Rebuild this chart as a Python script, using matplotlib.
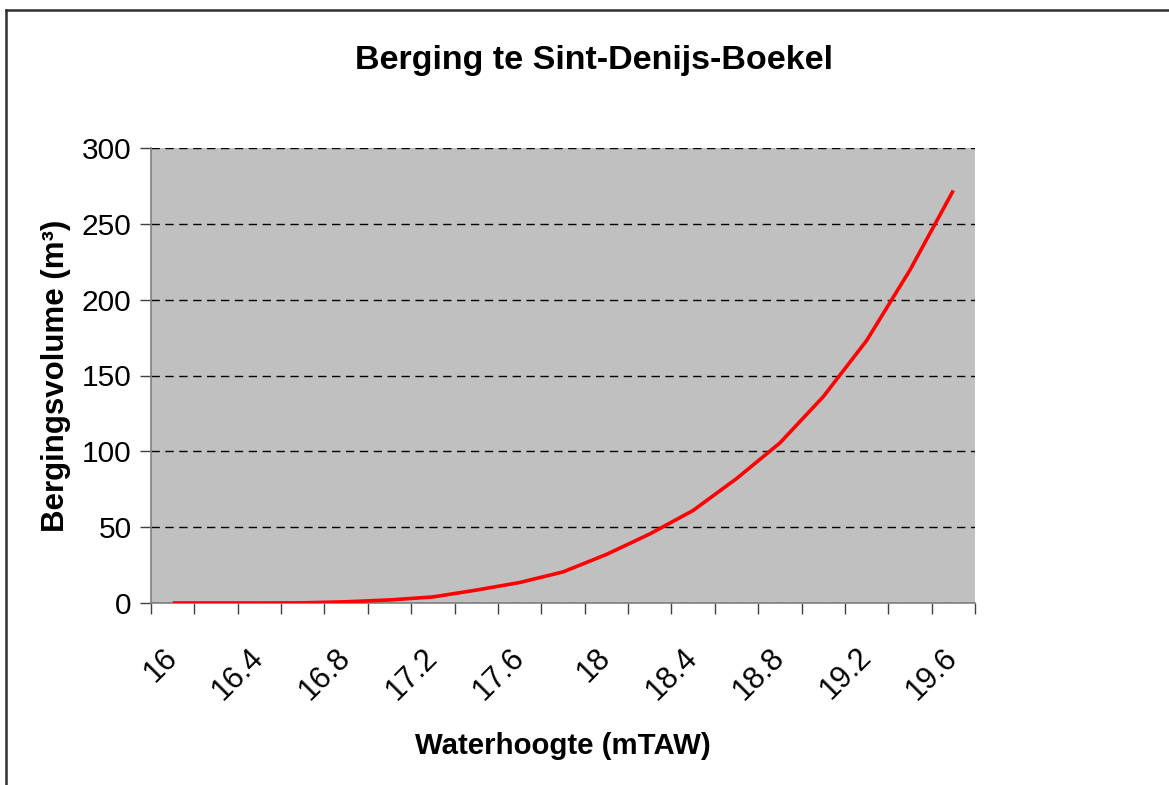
import numpy as np
import matplotlib.pyplot as plt
import matplotlib.transforms as mtransforms
from matplotlib.lines import Line2D

plt.rcParams['font.family'] = ['Liberation Sans', 'DejaVu Sans']

# data
waterhoogte = ["16", "16.2", "16.4", "16.6", "16.8", "17", "17.2", "17.4", "17.6", "17.8",
               "18", "18.2", "18.4", "18.6", "18.8", "19", "19.2", "19.4", "19.6"]
volume = [0, 0, 0, 0.1, 0.8, 2, 4, 8.5, 13.5, 20.5,
          32, 45.5, 61, 82, 105.5, 136, 173, 219.5, 272]
y_ticks = [0, 50, 100, 150, 200, 250, 300]

fig = plt.figure(figsize=(11.69, 7.85), dpi=100)
ax = fig.add_axes([151 / 1169, 1 - 603 / 785, 824 / 1169, 455 / 785])
ax.set_facecolor('#c0c0c0')

x = np.arange(len(volume))
ax.plot(x, volume, color='#ff0000', lw=2.6, solid_capstyle='butt', zorder=3)

ax.set_xlim(-0.5, len(volume) - 0.5)
ax.set_ylim(0, 300)
ax.set_yticks(y_ticks)
ax.set_yticklabels([str(v) for v in y_ticks], fontsize=21.5)
ax.yaxis.grid(True, color='black', linestyle=(0, (6, 4)), lw=1)
ax.set_axisbelow(True)

# category boundaries as tick marks, labels on every second category
ax.set_xticks(np.arange(-0.5, len(volume)))
ax.set_xticklabels([])
ax.set_xticks(x[::2], minor=True)
labels = ax.set_xticklabels(waterhoogte[::2], minor=True, fontsize=22, rotation=45,
                            ha='right', va='center', rotation_mode='anchor')
offset = mtransforms.ScaledTranslation(-5 / 100, 0, fig.dpi_scale_trans)
for lab in labels:
    lab.set_transform(lab.get_transform() + offset)
ax.tick_params(axis='x', which='major', length=8, width=1, color='#404040', direction='out')
ax.tick_params(axis='x', which='minor', length=0, pad=36)
ax.tick_params(axis='y', length=8, width=1, color='#404040', direction='out', pad=6)

for s in ['top', 'right']:
    ax.spines[s].set_visible(False)
for s in ['left', 'bottom']:
    ax.spines[s].set_color('#808080')
    ax.spines[s].set_linewidth(1.2)

ax.set_ylabel('Bergingsvolume (m³)', fontsize=22.5, fontweight='bold', labelpad=8)
ax.set_xlabel('Waterhoogte (mTAW)', fontsize=21.2, fontweight='bold', labelpad=19)
fig.text(594 / 1169, 1 - 61 / 785, 'Berging te Sint-Denijs-Boekel', fontsize=24.5,
         fontweight='bold', ha='center', va='center')

# outer chart border (top and left visible)
fig.add_artist(Line2D([6 / 1169, 6 / 1169], [0, 1 - 10 / 785], transform=fig.transFigure,
                      color='#303030', lw=1.8))
fig.add_artist(Line2D([6 / 1169, 1], [1 - 10 / 785, 1 - 10 / 785], transform=fig.transFigure,
                      color='#303030', lw=1.8))

fig.savefig('out.png', dpi=100)
